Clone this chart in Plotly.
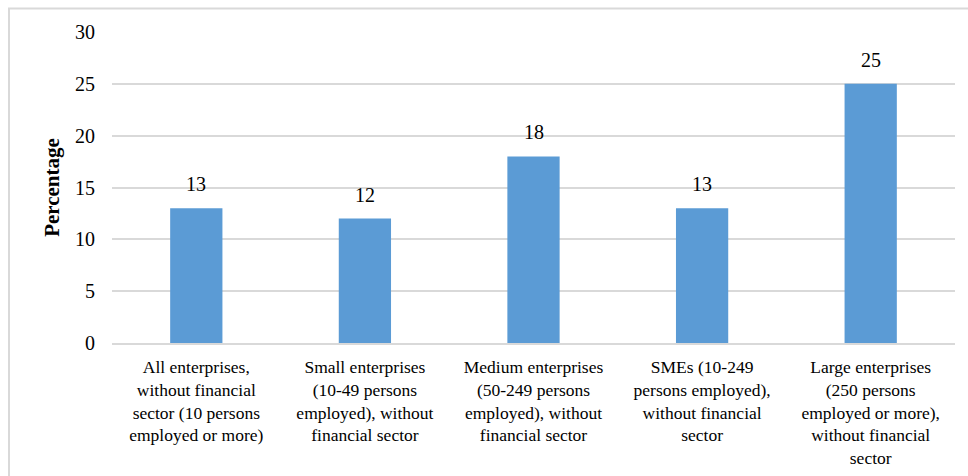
import plotly.graph_objects as go

# Share of enterprises by size class (percentage)
categories = [
    "All enterprises,<br>without financial<br>sector (10 persons<br>employed or more)",
    "Small enterprises<br>(10-49 persons<br>employed), without<br>financial sector",
    "Medium enterprises<br>(50-249 persons<br>employed), without<br>financial sector",
    "SMEs (10-249<br>persons employed),<br>without financial<br>sector",
    "Large enterprises<br>(250 persons<br>employed or more),<br>without financial<br>sector",
]
values = [13, 12, 18, 13, 25]
y_ticks = [0, 5, 10, 15, 20, 25, 30]

SERIF = "Liberation Serif, Times New Roman, serif"
BAR_COLOR = "#5B9BD5"
GRID = "#d9d9d9"

fig = go.Figure()
fig.add_trace(go.Bar(
    x=list(range(len(categories))),
    y=values,
    marker=dict(color=BAR_COLOR, line=dict(width=0)),
    width=0.31,
    hoverinfo="skip",
))

# value labels above each bar
for i, v in enumerate(values):
    fig.add_annotation(
        x=i, y=v, text=str(v), showarrow=False,
        xref="x", yref="y", yanchor="bottom", yshift=11,
        font=dict(family=SERIF, size=20, color="#000000"),
    )

# outer frame around the chart area
fig.add_shape(
    type="rect", xref="paper", yref="paper",
    x0=-0.1222, x1=1.05, y0=-0.5, y1=1.0755,
    line=dict(color=GRID, width=2), fillcolor="rgba(0,0,0,0)", layer="below",
)

fig.update_layout(
    width=968, height=476,
    margin=dict(l=112, r=13, t=32, b=133, autoexpand=False),
    paper_bgcolor="white", plot_bgcolor="white",
    showlegend=False,
    font=dict(family=SERIF, color="#000000"),
    xaxis=dict(
        tickmode="array",
        tickvals=list(range(len(categories))),
        ticktext=categories,
        range=[-0.5, len(categories) - 0.5],
        automargin=False,
        showgrid=False, zeroline=False,
        showline=True, linecolor=GRID, linewidth=2,
        ticks="", ticklabelstandoff=7,
        tickfont=dict(family=SERIF, size=17.5, color="#000000"),
    ),
    yaxis=dict(
        range=[0, 30],
        automargin=False,
        tickmode="array", tickvals=y_ticks,
        showgrid=True, gridcolor=GRID, gridwidth=2,
        zeroline=False, showline=False,
        ticks="", ticklabelstandoff=16,
        tickfont=dict(family=SERIF, size=20, color="#000000"),
        title=dict(
            text="<b>Percentage</b>", standoff=9,
            font=dict(family=SERIF, size=21, color="#000000"),
        ),
    ),
)

fig.write_html("out.html")
